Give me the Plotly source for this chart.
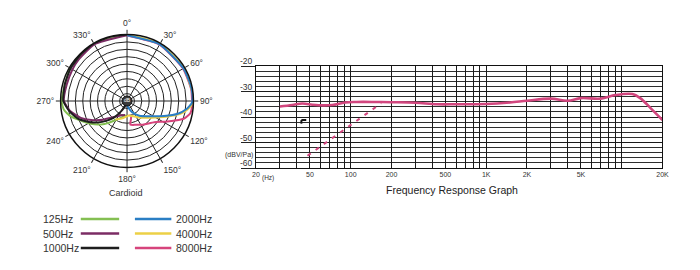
import plotly.graph_objects as go

W, H = 700, 270
FONT = "Arial, Liberation Sans, sans-serif"

# ---------------- polar data (angle in degrees, level in dB) ----------------
theta_125 = [0, 330, 300, 270, 262, 255, 248, 238, 228, 220, 212, 200, 190, 184]
db_125 = [0, 0, -0.3, -0.4, -1.1, -3.2, -6.2, -9.5, -12.7, -15.4, -17.8, -19.7, -20.8, -21.1]

theta_500 = [0, 330, 310, 300, 285, 270, 260, 250, 242, 232, 224, 212, 200, 188]
db_500 = [-0.3, -0.4, -1.1, -1.35, -1.6, -1.35, -3.5, -7.0, -10.5, -14.6, -17.6, -19.7, -20.8, -21.3]

theta_1000 = [0, 345, 330, 315, 300, 285, 270, 260, 250, 240, 230, 220, 212, 205, 198]
db_1000 = [0, 0, 0, -0.3, -0.5, -0.8, -1.1, -3.2, -5.9, -9.7, -13.8, -17.8, -21.3, -23.8, -25.4]

theta_2000 = [0, 30, 60, 75, 85, 92, 98, 104, 112, 124, 140, 155, 170, 180]
db_2000 = [-0.3, -0.4, -0.5, -0.4, -0.3, -0.7, -2.7, -5.7, -10.8, -15.9, -19.2, -21.9, -24.3, -25.4]

theta_4000 = [0, 30, 60, 85, 92, 98, 104, 112, 124, 140, 158, 173, 195, 212]
db_4000 = [0, -0.1, -0.3, -0.1, -0.4, -2.2, -4.9, -10.0, -14.9, -18.1, -20.3, -21.1, -19.7, -18.1]

theta_8000 = [0, 30, 60, 80, 95, 101, 107, 117, 128, 146, 160, 172, 168, 165]
db_8000 = [-0.4, -0.5, -0.7, -0.5, -0.5, -0.8, -2.7, -8.6, -13.0, -15.4, -16.7, -17.3, -19.4, -20.5]

polar_names = ["125Hz", "500Hz", "1000Hz", "2000Hz", "4000Hz", "8000Hz"]
polar_colors = ["#84bf52", "#7b2c64", "#1e1e1e", "#2a7ec4", "#ecd046", "#d6447c"]
polar_theta = [theta_125, theta_500, theta_1000, theta_2000, theta_4000, theta_8000]
polar_db = [db_125, db_500, db_1000, db_2000, db_4000, db_8000]
draw_order = [0, 1, 2, 5, 4, 3]   # black and blue end up on top, as in the reference
angle_ticks = [0, 30, 60, 90, 120, 150, 180, 210, 240, 270, 300, 330]
ring_vals = [-24, -21, -18, -15, -12, -9, -6, -3, 0]

# ---------------- frequency response data ----------------
fr_freq = [30, 37, 44, 52, 58, 73, 91, 110, 150, 200, 300, 433, 600, 1000, 1500,
           2000, 3000, 4000, 5000, 7000, 9000, 12000, 13700, 16400, 20000]
fr_db = [-35.9, -35.3, -34.7, -35.2, -35.4, -35.3, -34.3, -34.1, -34.1, -34.2, -34.4,
         -35.0, -35.0, -34.9, -34.3, -33.6, -32.8, -33.6, -32.6, -32.8, -31.4, -31.0,
         -32.6, -36.6, -41.2]
dash_freq = [48, 168]
dash_db = [-55.2, -34.6]
mark_freq = [43.2, 43.3, 44.0, 47.0]
mark_db = [-42.6, -41.5, -41.2, -41.2]

x_grid = [20, 30, 40, 50, 60, 70, 80, 90, 100, 200, 300, 400, 500, 600, 700, 800, 900,
          1000, 2000, 3000, 4000, 5000, 6000, 7000, 8000, 9000, 10000, 20000]
x_labels = {20: "20", 50: "50", 100: "100", 200: "200", 500: "500", 1000: "1K",
            2000: "2K", 5000: "5K", 20000: "20K"}
y_major = [-60, -50, -40, -30, -20]
y_major_text = ["-60", "-50", "-40", "-30", "-20"]


def px(x):
    return x / W


def py(y):
    return (H - y) / H


fig = go.Figure()

# polar curves
for i in draw_order:
    fig.add_trace(go.Scatterpolar(theta=polar_theta[i], r=polar_db[i], mode="lines", name=polar_names[i],
                                  line=dict(color=polar_colors[i], width=2, shape="spline", smoothing=0.5),
                                  showlegend=False, hoverinfo="skip"))

# centre "dB" badge
fig.add_trace(go.Scatterpolar(theta=[0], r=[-27], mode="markers+text", text=["dB"],
                              textfont=dict(size=5, color="white", family=FONT),
                              textposition="middle center",
                              marker=dict(size=10, color="#3a3a3a", line=dict(color="#111", width=1)),
                              showlegend=False, hoverinfo="skip"))

# frequency response
fig.add_trace(go.Scatter(x=fr_freq, y=fr_db, mode="lines", line=dict(color="#d2467e", width=2.6, shape="spline"),
                         xaxis="x", yaxis="y", showlegend=False, hoverinfo="skip"))
fig.add_trace(go.Scatter(x=dash_freq, y=dash_db, mode="lines", line=dict(color="#d2467e", width=2, dash="4px,6px"),
                         xaxis="x", yaxis="y", showlegend=False, hoverinfo="skip"))
fig.add_trace(go.Scatter(x=mark_freq, y=mark_db, mode="lines", line=dict(color="#111", width=2),
                         xaxis="x", yaxis="y", showlegend=False, hoverinfo="skip"))

# polar placement: centre (125,101) radius 67.5
cx, cy, R = 125, 101, 67.5
fig.update_layout(
    width=W, height=H, margin=dict(l=0, r=0, t=0, b=0),
    paper_bgcolor="white", plot_bgcolor="white",
    font=dict(family=FONT, color="#333"),
    polar=dict(
        domain=dict(x=[px(cx - R), px(cx + R)], y=[py(cy + R), py(cy - R)]),
        bgcolor="white",
        radialaxis=dict(range=[-27, 0], tickvals=ring_vals, showticklabels=False, ticks="",
                        showline=False, gridcolor="#222", gridwidth=1),
        angularaxis=dict(direction="clockwise", rotation=90, tickmode="array", tickvals=angle_ticks,
                         ticktext=[f"{a}°" for a in angle_ticks],
                         tickfont=dict(size=8.5, color="#333"),
                         showline=True, linecolor="#111", linewidth=1.5,
                         gridcolor="#222", gridwidth=1,
                         ticks="outside", ticklen=4, tickcolor="#222"),
    ),
    xaxis=dict(type="log", range=[1.30103, 4.30103], domain=[px(256), px(669)], anchor="y",
               tickmode="array", tickvals=x_grid, ticktext=[x_labels.get(v, "") for v in x_grid],
               tickfont=dict(size=7, color="#333"), ticks="", showgrid=True, gridcolor="#1a1a1a", gridwidth=1,
               showline=True, linecolor="#111", linewidth=1, mirror=True, zeroline=False),
    yaxis=dict(range=[-60, -20], domain=[py(168), py(66)], anchor="x",
               tickmode="array", tickvals=y_major, showticklabels=False,
               ticks="outside", ticklen=14, tickcolor="#222", tickwidth=1,
               showgrid=True, gridcolor="#1a1a1a", gridwidth=1,
               minor=dict(tickmode="linear", tick0=-60, dtick=2, showgrid=True, gridcolor="#2e2e2e", gridwidth=1, ticks=""),
               showline=True, linecolor="#111", linewidth=1, mirror=True, zeroline=False),
)

annotations = [
    dict(text="(dBV/Pa)", x=px(239), y=py(154.5), font=dict(size=7, color="#333")),
    dict(text="(Hz)", x=px(268.5), y=py(177.5), font=dict(size=6.5, color="#333")),
    dict(text="Frequency Response Graph", x=px(455), y=py(190), font=dict(size=10.5, color="#222")),
    dict(text="Cardioid", x=px(124), y=py(192.5), font=dict(size=9, color="#333")),
]

# y-axis labels sit on top of their (extended) major grid lines
for v, t in zip(y_major, y_major_text):
    annotations.append(dict(text=t, x=px(255), y=v, yref="y", xanchor="right", yanchor="middle",
                            yshift=5, font=dict(size=8.5, color="#333")))

# legend built from names/colours
rows_y = [219, 233.5, 248]
shapes = []
for i in range(3):
    # left column: text then line
    annotations.append(dict(text=polar_names[i], x=px(37.5), y=py(rows_y[i]), xanchor="left",
                            font=dict(size=10.5, color="#333")))
    shapes.append(dict(type="line", xref="paper", yref="paper", x0=px(78), x1=px(117),
                       y0=py(rows_y[i]), y1=py(rows_y[i]), line=dict(color=polar_colors[i], width=2.6)))
    # right column: line then text
    shapes.append(dict(type="line", xref="paper", yref="paper", x0=px(133), x1=px(170),
                       y0=py(rows_y[i]), y1=py(rows_y[i]), line=dict(color=polar_colors[i + 3], width=2.6)))
    annotations.append(dict(text=polar_names[i + 3], x=px(172.5), y=py(rows_y[i]), xanchor="left",
                            font=dict(size=10.5, color="#333")))

for a in annotations:
    a.setdefault("xref", "paper")
    a.setdefault("yref", "paper")
    a.setdefault("showarrow", False)
    a.setdefault("xanchor", "center")
    a.setdefault("yanchor", "middle")
    a["font"]["family"] = FONT

fig.update_layout(annotations=annotations, shapes=shapes)
fig.write_html("out.html")
